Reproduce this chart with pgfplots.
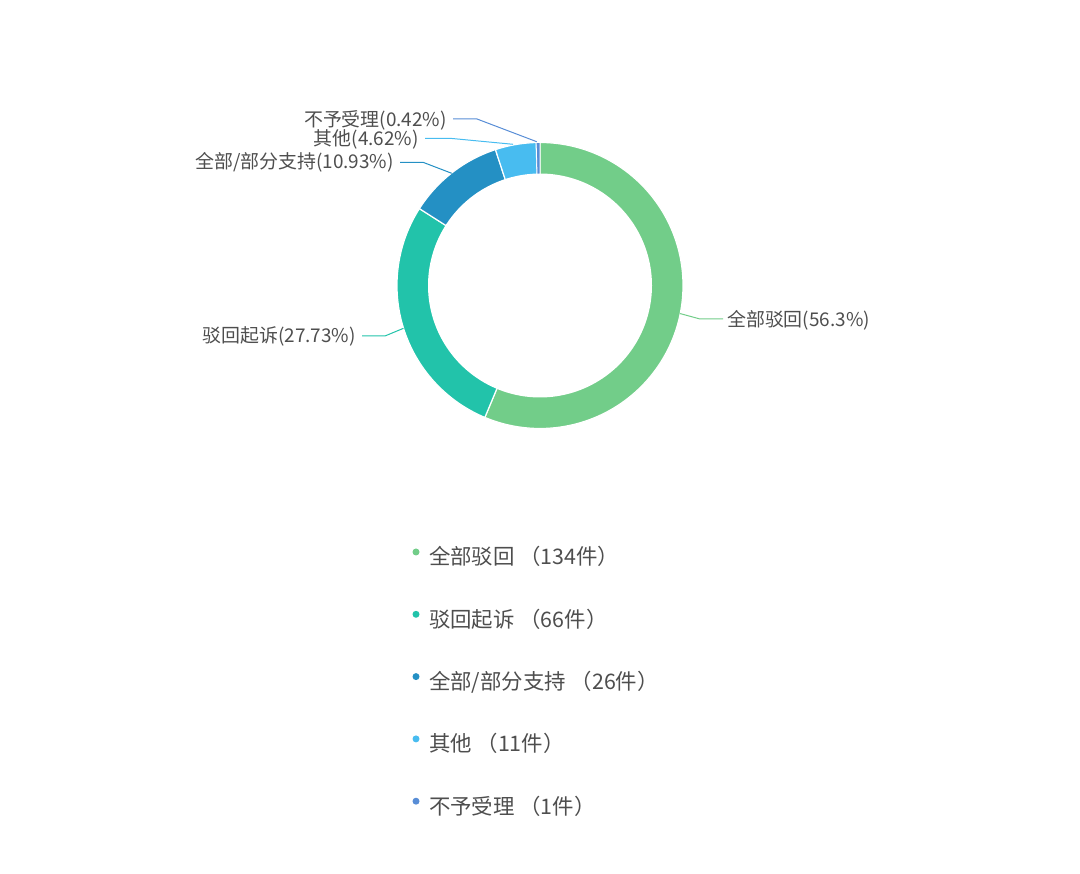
\documentclass[border=0pt]{standalone}
\usepackage{fontspec}
\usepackage{pgfplots}
\pgfplotsset{compat=1.18}
\newfontfamily\cjk{Noto Sans CJK SC}

\definecolor{cA}{RGB}{114,205,137}
\definecolor{cB}{RGB}{34,195,170}
\definecolor{cC}{RGB}{36,144,196}
\definecolor{cD}{RGB}{72,188,240}
\definecolor{cE}{RGB}{88,141,214}
\definecolor{txt}{RGB}{78,78,78}

\tikzset{lbl/.style={font=\cjk\fontsize{19}{22}\selectfont, text=txt, inner sep=0pt}}

% case counts
\def\nA{134}\def\nB{66}\def\nC{26}\def\nD{11}\def\nE{1}
\pgfmathsetmacro\total{\nA+\nB+\nC+\nD+\nE}
% sector edges, clockwise from the top
\pgfmathsetmacro\aA{90}
\pgfmathsetmacro\aB{\aA-\nA/\total*360}
\pgfmathsetmacro\aC{\aB-\nB/\total*360}
\pgfmathsetmacro\aD{\aC-\nC/\total*360}
\pgfmathsetmacro\aE{\aD-\nD/\total*360}
\pgfmathsetmacro\aF{\aE-\nE/\total*360}
\def\rO{143}
\def\rI{112}

\begin{document}
\begin{tikzpicture}
\begin{axis}[
    x=1bp, y=1bp,
    xmin=-540, xmax=540,
    ymin=-588.5, ymax=285.5,
    hide axis,
    clip=false,
    legend cell align=left,
    legend image code/.code={\fill[#1] (3.5bp,7.8bp) circle[radius=3.5bp];},
    legend style={at={(axis cs:-127.5,-263)}, anchor=north west,
        draw=none, fill=none, inner sep=0pt, outer sep=0pt,
        row sep=41bp, column sep=9.5bp,
        font=\cjk\fontsize{21.5}{24}\selectfont,
        nodes={inner sep=0pt, text height=15bp, text depth=5bp, text=txt}},
    ]
\path (rel axis cs:0,0) rectangle (rel axis cs:1,1);
% ring sectors
\addplot[forget plot, data cs=polar, fill=cA, draw=white, line width=1.2bp,
    domain=\aB:\aA, samples=160, variable=\t] ({\t},{\rO}) -- (axis cs:0,0) -- cycle;
\addplot[forget plot, data cs=polar, fill=cB, draw=white, line width=1.2bp,
    domain=\aC:\aB, samples=90, variable=\t] ({\t},{\rO}) -- (axis cs:0,0) -- cycle;
\addplot[forget plot, data cs=polar, fill=cC, draw=white, line width=1.2bp,
    domain=\aD:\aC, samples=40, variable=\t] ({\t},{\rO}) -- (axis cs:0,0) -- cycle;
\addplot[forget plot, data cs=polar, fill=cD, draw=white, line width=1.2bp,
    domain=\aE:\aD, samples=20, variable=\t] ({\t},{\rO}) -- (axis cs:0,0) -- cycle;
\addplot[forget plot, data cs=polar, fill=cE, draw=white, line width=0.8bp,
    domain=\aF:\aE, samples=5, variable=\t] ({\t},{\rO}) -- (axis cs:0,0) -- cycle;
% hole
\addplot[forget plot, data cs=polar, fill=white, draw=none,
    domain=0:360, samples=200, variable=\t] ({\t},{\rI}) -- cycle;

% leader lines
\addplot[forget plot, cA, line width=1bp] coordinates {(140.2,-28.1) (160,-33.5) (183,-33.5)};
\addplot[forget plot, cB, line width=1bp] coordinates {(-136.5,-42.8) (-155,-50.5) (-178,-50.5)};
\addplot[forget plot, cC, line width=1bp] coordinates {(-88.3,112.2) (-117,123.2) (-140,123.2)};
\addplot[forget plot, cD, line width=1bp] coordinates {(-27,141.2) (-90,147.2) (-115,147.2)};
\addplot[forget plot, cE, line width=1bp] coordinates {(-3.3,143.8) (-63,166.5) (-87,166.5)};

\node[lbl, anchor=west] at (axis cs:187,-34.5) {全部驳回(56.3\%)};
\node[lbl, anchor=east] at (axis cs:-184,-50.5) {驳回起诉(27.73\%)};
\node[lbl, anchor=east] at (axis cs:-146,123.5) {全部/部分支持(10.93\%)};
\node[lbl, anchor=east] at (axis cs:-121,146.5) {其他(4.62\%)};
\node[lbl, anchor=east] at (axis cs:-93,165.5) {不予受理(0.42\%)};

% legend
\addlegendimage{fill=cA, draw=none}
\addlegendentry{全部驳回 （134件）}
\addlegendimage{fill=cB, draw=none}
\addlegendentry{驳回起诉 （66件）}
\addlegendimage{fill=cC, draw=none}
\addlegendentry{全部/部分支持 （26件）}
\addlegendimage{fill=cD, draw=none}
\addlegendentry{其他 （11件）}
\addlegendimage{fill=cE, draw=none}
\addlegendentry{不予受理 （1件）}
\end{axis}
\end{tikzpicture}
\end{document}
